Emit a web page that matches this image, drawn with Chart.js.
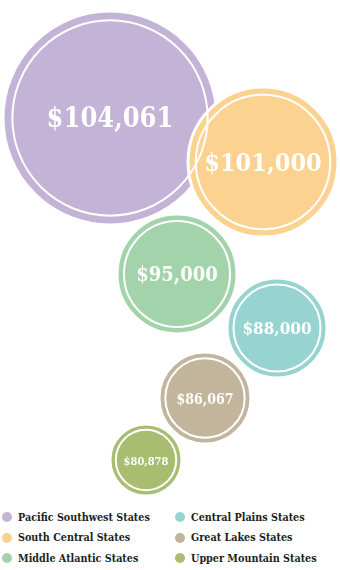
<!DOCTYPE html>
<html>
<head>
<meta charset="utf-8">
<script src="https://cdn.jsdelivr.net/npm/chart.js@4"></script>
<style>
  body { margin: 0; background: #fff; width: 340px; height: 570px; overflow: hidden; }
  #wrap { position: relative; width: 340px; height: 502px; }
  #legend {
    display: grid; grid-template-rows: repeat(3, 20.5px); grid-auto-flow: column;
    grid-template-columns: 173px 167px; padding-left: 2px; margin-top: 5px;
    font-family: "DejaVu Serif Condensed", "DejaVu Serif", serif; font-weight: bold; font-size: 10.7px; color: #231f20;
  }
  #legend div { display: flex; align-items: center; white-space: nowrap; }
  #legend span { display: inline-block; width: 10px; height: 10px; border-radius: 50%; margin-right: 6px; }
</style>
</head>
<body>
<div id="wrap"><canvas id="bubbleChart"></canvas></div>
<div id="legend"></div>
<script>
// median salary by region
const regions = ['Pacific Southwest States', 'South Central States', 'Middle Atlantic States',
  'Central Plains States', 'Great Lakes States', 'Upper Mountain States'];
const salaries = [104061, 101000, 95000, 88000, 86067, 80878];

// colours + layout of the packed circles (pixels)
const colors = ['#c3b3d6', '#fcd291', '#a2d3ab', '#97d4d1', '#c3b59b', '#a8bd70'];
const bubbleX = [110, 263, 177, 277, 205, 146];
const bubbleY = [118, 162, 274, 328, 398, 460];
const bubbleR = [107, 75, 60, 50, 46, 36];
const labelSize = [27, 25, 20, 17, 14, 11];

const fmt = v => '$' + v.toLocaleString('en-US');

const labelPlugin = {
  id: 'bubbleLabels',
  afterDatasetsDraw(chart) {
    const ctx = chart.ctx;
    const meta = chart.getDatasetMeta(0);
    ctx.save();
    ctx.fillStyle = '#fff';
    ctx.textAlign = 'center';
    ctx.textBaseline = 'middle';
    meta.data.forEach((pt, i) => {
      ctx.font = 'bold ' + labelSize[i] + 'px "DejaVu Serif Condensed", "DejaVu Serif", serif';
      ctx.fillText(fmt(salaries[i]), pt.x, pt.y + 2);
    });
    ctx.restore();
  }
};

const ctx = document.getElementById('bubbleChart');
new Chart(ctx, {
  type: 'bubble',
  data: {
    datasets: [{
      label: 'Median salary',
      data: salaries.map((v, i) => ({ x: bubbleX[i], y: bubbleY[i], r: bubbleR[i] })),
      backgroundColor: colors,
      borderColor: '#fff',
      borderWidth: 3,
      order: 1,
      clip: false
    }, {
      label: 'ring',
      data: salaries.map((v, i) => ({ x: bubbleX[i], y: bubbleY[i], r: bubbleR[i] - (4 + bubbleR[i] * 0.05) })),
      backgroundColor: 'rgba(0,0,0,0)',
      borderColor: '#fff',
      borderWidth: 2,
      order: 0,
      clip: false
    }]
  },
  options: {
    responsive: true,
    maintainAspectRatio: false,
    animation: false,
    events: [],
    layout: { padding: 0, autoPadding: false },
    scales: {
      x: { type: 'linear', min: 0, max: 340, display: false },
      y: { type: 'linear', min: 0, max: 502, reverse: true, display: false }
    },
    plugins: { legend: { display: false }, tooltip: { enabled: false } }
  },
  plugins: [labelPlugin]
});

const legend = document.getElementById('legend');
regions.forEach((name, i) => {
  const item = document.createElement('div');
  item.innerHTML = '<span style="background:' + colors[i] + '"></span>' + name;
  legend.appendChild(item);
});
</script>
</body>
</html>
